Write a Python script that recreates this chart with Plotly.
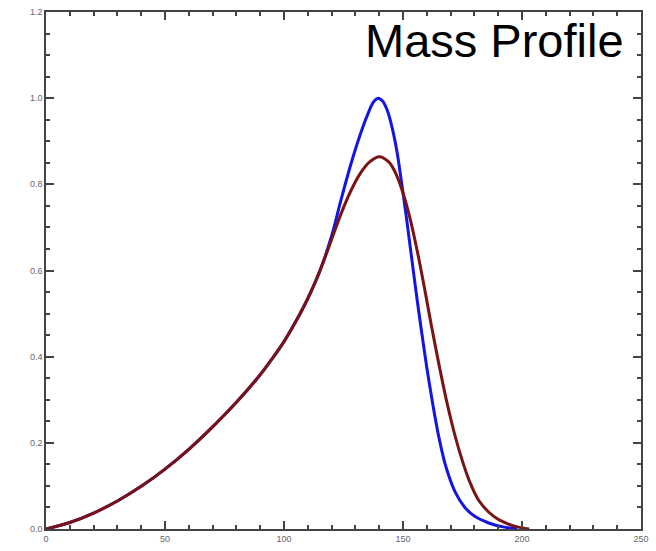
import plotly.graph_objects as go

# Shared rising part (both profiles coincide)
shared_x = [0, 10, 20, 30, 40, 50, 60, 70, 80, 90, 95, 100, 105, 110, 115]
shared_y = [0.0, 0.015, 0.037, 0.065, 0.099, 0.139, 0.185, 0.237, 0.294, 0.358, 0.395, 0.435, 0.482, 0.535, 0.598]

blue_x_tail = [120, 124, 128, 132, 135, 137.5, 139.5, 141.5, 143.5, 145.5, 147.5, 149.5, 151.5, 153.5, 155.5, 157.5,
               160, 162.5, 165, 168, 172, 176, 180, 186, 192, 198]
blue_y_tail = [0.68, 0.765, 0.845, 0.915, 0.96, 0.99, 1.0, 0.993, 0.97, 0.93, 0.875, 0.80, 0.72, 0.635, 0.55, 0.47,
               0.375, 0.29, 0.215, 0.145, 0.085, 0.05, 0.03, 0.014, 0.005, 0.0]

red_x_tail = [120, 124, 128, 132, 136, 140, 144, 147, 150, 153, 156, 159, 162, 165, 168, 171, 174, 178, 182, 188, 194, 198, 203]
red_y_tail = [0.672, 0.732, 0.784, 0.825, 0.852, 0.864, 0.852, 0.825, 0.78, 0.72, 0.645, 0.56, 0.47, 0.385, 0.305, 0.235,
              0.175, 0.11, 0.065, 0.03, 0.012, 0.005, 0.0]

blue_x = shared_x + blue_x_tail
blue_y = shared_y + blue_y_tail
red_x = shared_x + red_x_tail
red_y = shared_y + red_y_tail

x_range = [0, 250]
y_range = [0, 1.2]
x_minor = [v for v in range(0, 251, 10) if v % 50 != 0]
y_minor = [round(i * 0.05, 2) for i in range(25) if i % 4 != 0]

fig = go.Figure()
fig.add_trace(go.Scatter(x=blue_x, y=blue_y, mode="lines",
                         line=dict(color="#1414e6", width=3, shape="spline", smoothing=0.9),
                         showlegend=False, hoverinfo="skip"))
fig.add_trace(go.Scatter(x=red_x, y=red_y, mode="lines",
                         line=dict(color="#7a1414", width=3, shape="spline", smoothing=0.9),
                         showlegend=False, hoverinfo="skip"))
# empty trace bound to the minor-tick overlay axes
fig.add_trace(go.Scatter(x=[None], y=[None], xaxis="x2", yaxis="y2", mode="lines",
                         showlegend=False, hoverinfo="skip"))

axis_common = dict(
    showgrid=False, zeroline=False, showline=True, linecolor="#444", linewidth=1.5,
    mirror="ticks", ticks="inside", tickwidth=1.5, tickcolor="#444",
)

fig.update_layout(
    xaxis=dict(range=x_range, tickmode="linear", tick0=0, dtick=50, ticklen=8,
               tickfont=dict(family="Liberation Sans, Arial", size=9, color="#666"), **axis_common),
    yaxis=dict(range=y_range, tickmode="linear", tick0=0, dtick=0.2, tickformat=".1f", ticklen=8,
               tickfont=dict(family="Liberation Sans, Arial", size=9, color="#666"), **axis_common),
    xaxis2=dict(range=x_range, overlaying="x", anchor="y2", side="bottom", tickmode="array", tickvals=x_minor,
                ticklen=4, showticklabels=False, **axis_common),
    yaxis2=dict(range=y_range, overlaying="y", anchor="x2", side="left", tickmode="array", tickvals=y_minor,
                ticklen=4, showticklabels=False, **axis_common),
)

fig.add_annotation(text="Mass Profile", xref="paper", yref="paper",
                   x=0.975, y=0.945, xanchor="right", yanchor="middle", showarrow=False,
                   font=dict(family="Liberation Sans, Arial", size=47, color="black"))

fig.update_layout(width=656, height=551, margin=dict(l=46, r=15, t=7, b=22),
                  paper_bgcolor="white", plot_bgcolor="white")

fig.write_html("out.html")
